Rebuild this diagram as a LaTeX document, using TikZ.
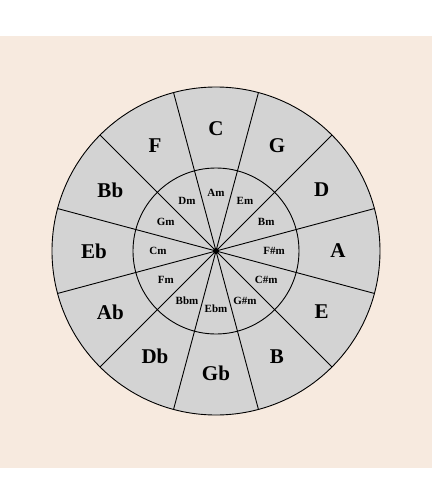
\documentclass[tikz,border=0pt]{standalone}
\usepackage{fontspec}
\setmainfont{Liberation Serif}
\definecolor{bgcream}{RGB}{247,234,223}
\definecolor{wedgegray}{RGB}{211,211,211}
\tikzset{
  majorkey/.style={font=\bfseries\fontsize{21}{21}\selectfont},
  minorkey/.style={font=\bfseries\fontsize{11}{11}\selectfont},
  rim/.style={draw=black, line width=0.9pt}
}
\begin{document}
\begin{tikzpicture}[x=1pt,y=1pt]
  % page and background band
  \useasboundingbox (-216,-253) rectangle (216,251);
  \fill[bgcream] (-216,-217) rectangle (216,215);
  \coordinate (hub) at (0,0);

  % outer disc and inner ring
  \draw[rim, fill=wedgegray] (hub) circle (164);
  \draw[rim] (hub) circle (83);

  % spokes between the keys
  \foreach \a in {15,45,...,345}
    \draw[rim] (hub) -- ++(\a:164);
  \fill (hub) circle (3);

  % major keys (outer) and relative minors (inner)
  \foreach \k [count=\i from 0] in {C,G,D,A,E,B,Gb,Db,Ab,Eb,Bb,F}
    \node[majorkey] (maj\i) at ({90-30*\i}:122) {\k};
  \foreach \k [count=\i from 0] in {Am,Em,Bm,F\#m,C\#m,G\#m,Ebm,Bbm,Fm,Cm,Gm,Dm}
    \node[minorkey] (min\i) at ({90-30*\i}:58) {\k};
\end{tikzpicture}
\end{document}
